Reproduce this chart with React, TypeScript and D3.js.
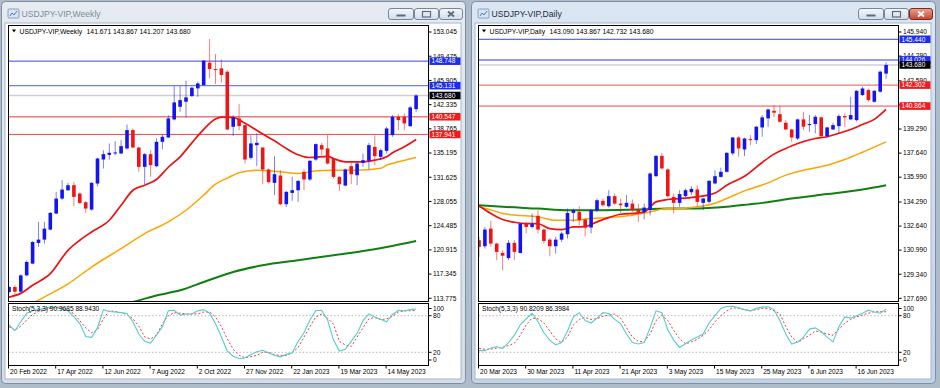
import * as d3 from 'd3';

type Candle = [number, number, number, number]; // open, high, low, close
type Pt = [number, number]; // bar index, value

const weeklyDateLabels = ['20 Feb 2022', '17 Apr 2022', '12 Jun 2022', '7 Aug 2022', '2 Oct 2022', '27 Nov 2022', '22 Jan 2023', '19 Mar 2023', '14 May 2023'];
const dailyDateLabels = ['20 Mar 2023', '30 Mar 2023', '11 Apr 2023', '21 Apr 2023', '3 May 2023', '15 May 2023', '25 May 2023', '6 Jun 2023', '16 Jun 2023'];

const weeklyTicks = [153.045, 149.475, 145.905, 142.335, 138.765, 135.195, 131.625, 128.055, 124.485, 120.915, 117.345, 113.775];
const dailyTicks = [145.94, 144.29, 142.59, 140.94, 139.29, 137.64, 135.99, 134.29, 132.64, 130.99, 129.34, 127.69];

const weeklyResistance = [148.748, 145.131];
const weeklySupport = [140.547, 137.941];
const dailyResistance = [145.44, 144.026];
const dailySupport = [142.302, 140.864];
const lastPrice = 143.68;

const weeklyCandles: Candle[] = [
    [114.7, 115.6, 114.5, 115.44], [115.44, 115.7, 114.4, 114.75], [114.75, 117.3, 114.6, 117.16], [117.16, 119.38, 117.0, 119.13],
    [118.89, 122.2, 118.8, 122.08], [121.94, 125.04, 121.35, 122.43], [122.43, 125.04, 121.84, 124.05], [123.91, 126.5, 123.8, 126.37],
    [126.27, 129.47, 126.2, 128.48], [128.48, 131.19, 128.24, 129.81], [129.71, 130.8, 129.6, 130.45], [130.45, 130.95, 127.35, 128.73],
    [129.22, 129.4, 127.7, 127.84], [127.94, 128.1, 126.37, 127.01], [126.86, 130.9, 126.7, 130.8], [130.7, 134.5, 130.3, 134.39],
    [134.24, 135.62, 132.91, 135.03], [134.93, 136.61, 134.24, 135.23], [135.13, 136.95, 134.88, 135.28], [135.13, 137.1, 135.03, 136.21],
    [135.87, 139.41, 135.7, 138.58], [138.58, 138.82, 135.9, 136.01], [136.01, 136.1, 132.42, 133.16], [133.16, 135.2, 130.6, 135.03],
    [135.03, 135.62, 131.68, 133.41], [133.26, 137.34, 133.1, 136.85], [136.85, 137.93, 135.72, 137.59], [137.49, 140.79, 137.4, 140.3],
    [140.15, 145.07, 140.0, 142.66], [142.02, 145.07, 141.28, 143.0], [142.76, 145.86, 140.44, 143.4], [143.59, 144.97, 143.5, 144.83],
    [144.73, 145.71, 143.5, 145.46], [145.22, 148.91, 145.1, 148.81], [148.52, 152.01, 146.2, 147.58], [147.58, 149.8, 145.37, 147.53],
    [147.68, 149.01, 145.56, 146.7], [147.19, 147.4, 138.58, 138.67], [139.07, 140.79, 137.69, 140.44], [140.3, 142.41, 138.58, 139.16],
    [139.31, 139.4, 133.65, 134.24], [134.49, 137.84, 134.24, 136.61], [136.36, 138.1, 133.26, 136.7], [136.01, 136.1, 130.6, 132.77],
    [132.77, 132.91, 130.7, 130.9], [130.8, 134.73, 128.98, 132.08], [131.88, 132.67, 127.5, 127.65], [127.65, 129.6, 127.25, 129.47],
    [129.32, 131.68, 128.14, 129.71], [129.71, 131.19, 127.99, 131.09], [132.42, 132.77, 129.71, 131.29], [131.29, 134.2, 131.1, 134.05],
    [134.24, 136.61, 134.05, 136.51], [136.36, 136.7, 134.88, 135.72], [135.87, 137.84, 133.5, 133.65], [134.39, 134.5, 131.44, 131.68],
    [131.68, 131.8, 129.61, 130.6], [130.4, 132.9, 130.3, 132.77], [133.26, 133.75, 130.6, 132.08], [131.93, 133.9, 130.45, 133.65],
    [133.75, 135.13, 133.16, 134.14], [134.05, 136.7, 132.77, 136.36], [136.11, 137.79, 133.41, 134.73], [134.64, 135.87, 134.14, 135.62],
    [135.52, 139.07, 135.13, 138.82], [137.84, 140.79, 137.59, 140.54], [140.54, 140.94, 138.58, 140.05], [140.54, 141.04, 138.58, 139.56],
    [139.16, 142.12, 139.07, 141.92], [141.671, 143.867, 141.207, 143.68],
];

const weeklyRedMA: Pt[] = [
    [0, 113.96], [2, 114.5], [4, 115.69], [7, 117.41], [10, 120.85], [12, 122.33], [14, 123.56], [17, 125.28], [19, 127.5],
    [21, 129.71], [23, 130.45], [25, 131.3], [27, 133.1], [29, 134.64], [31, 136.7], [33, 138.7], [35, 140.2], [36, 140.5],
    [38, 140.44], [40, 139.6], [43, 138.0], [45, 137.0], [47, 135.87], [49, 134.95], [51, 134.54], [54, 134.7], [55, 134.39],
    [57, 133.9], [60, 133.9], [62, 134.14], [64, 134.64], [65, 135.23], [67, 136.11], [69, 137.2],
];
const weeklyOrangeMA: Pt[] = [
    [3, 112.5], [5, 113.5], [10, 115.9], [14, 118.39], [19, 121.1], [23, 123.32], [27, 125.04], [30, 126.76], [33, 129.0],
    [35, 130.6], [37, 131.5], [39, 132.3], [42, 132.67], [46, 132.42], [49, 132.18], [52, 132.57], [55, 132.67], [58, 132.67],
    [60, 132.7], [63, 132.95], [64, 133.41], [66, 133.9], [69, 134.54],
];
const weeklyGreenMA: Pt[] = [
    [20, 113.0], [22, 113.47], [25, 114.2], [29, 114.95], [33, 116.18], [38, 117.66], [43, 118.64], [49, 119.38], [55, 120.12],
    [60, 120.76], [64, 121.35], [69, 122.23],
];
const weeklyStochMain = [
    64.8, 55.4, 70, 84, 88.2, 90, 92, 94, 93, 91, 88, 78, 67, 46, 44.6, 60, 90, 87, 86, 85, 83.6, 70, 50, 38, 35, 48, 62, 88,
    89, 81, 82.8, 82.8, 88, 90, 84, 67, 45, 22, 13.6, 9.8, 10.9, 16, 21, 23.4, 19, 15, 12.5, 16.9, 19, 38, 52, 73, 88, 89, 73,
    40, 22, 25, 38, 51, 72, 83, 78, 74, 70, 82, 89, 88, 90, 90.97,
];
const weeklyStochSignal = [
    62, 56.5, 63, 73, 82, 87, 89, 92, 94, 93, 90, 83, 72, 60, 52, 57, 75, 88, 87, 85, 82, 75, 63, 45, 42, 48, 67, 80, 85, 84,
    83, 83, 83, 86, 86, 78, 62, 42, 25, 15, 11, 13, 15, 20, 20, 16, 15, 15, 19, 28, 45, 62, 78, 83, 76, 66, 38, 32, 29.5, 45,
    60, 75, 77, 73.5, 75, 79, 86, 88, 88.2, 88.94,
];

const dailyCandles: Candle[] = [
    [131.67, 131.9, 130.52, 131.21], [131.26, 132.58, 131.1, 132.4], [132.47, 133.0, 131.21, 131.44], [131.44, 131.5, 130.3, 130.87],
    [130.8, 130.98, 129.61, 130.61], [130.45, 131.67, 130.3, 131.49], [131.49, 131.67, 130.3, 130.87], [130.8, 132.85, 130.75, 132.81],
    [132.81, 132.93, 132.13, 132.58], [132.58, 133.5, 132.47, 132.77], [133.34, 133.73, 132.13, 132.4], [132.4, 132.47, 131.44, 131.62],
    [131.71, 131.8, 130.57, 131.26], [131.26, 131.9, 130.75, 131.71], [131.71, 132.24, 131.55, 132.13], [132.08, 133.84, 131.78, 133.54],
    [133.54, 133.84, 132.93, 133.73], [133.61, 134.0, 132.7, 133.04], [133.09, 133.16, 131.94, 132.54], [132.54, 133.8, 132.13, 133.73],
    [133.73, 134.53, 133.6, 134.41], [134.37, 134.53, 133.96, 134.07], [134.0, 135.1, 133.9, 134.69], [134.69, 134.87, 134.07, 134.18],
    [134.18, 134.53, 133.54, 134.07], [133.96, 134.76, 133.9, 134.23], [134.18, 134.46, 133.61, 133.73], [133.77, 134.18, 132.93, 133.61],
    [133.61, 134.18, 133.09, 133.91], [133.73, 136.3, 133.38, 136.24], [136.06, 137.5, 136.0, 137.45], [137.45, 137.66, 136.52, 136.59],
    [136.52, 136.6, 134.6, 134.69], [134.64, 134.87, 133.5, 134.23], [134.23, 135.1, 133.96, 134.83], [134.69, 135.21, 134.64, 135.1],
    [134.96, 135.37, 134.76, 135.19], [135.15, 135.44, 134.0, 134.3], [134.23, 134.56, 133.73, 134.53], [134.3, 135.8, 134.2, 135.74],
    [135.56, 136.47, 135.51, 136.06], [136.01, 136.65, 135.97, 136.36], [136.36, 137.7, 136.3, 137.66], [137.62, 138.75, 137.5, 138.71],
    [138.71, 138.8, 137.39, 137.96], [137.89, 138.7, 137.43, 138.64], [138.6, 138.87, 138.19, 138.53], [138.53, 139.5, 138.26, 139.45],
    [139.4, 140.25, 138.76, 140.09], [140.02, 140.7, 139.45, 140.63], [140.54, 140.93, 140.09, 140.41], [140.31, 140.86, 139.72, 139.79],
    [139.72, 139.9, 139.22, 139.26], [139.26, 139.3, 138.42, 138.71], [138.64, 140.0, 138.53, 139.95], [139.95, 140.47, 139.22, 139.45],
    [139.56, 140.25, 139.1, 139.63], [139.63, 140.25, 138.99, 140.13], [140.09, 140.15, 138.71, 138.8], [138.8, 139.45, 138.71, 139.4],
    [139.26, 139.72, 139.22, 139.56], [139.49, 140.31, 138.99, 140.18], [140.18, 140.36, 139.45, 140.09], [139.95, 141.5, 139.9, 140.25],
    [139.9, 141.95, 139.8, 141.91], [141.62, 142.2, 141.55, 142.07], [141.96, 142.07, 141.16, 141.27], [141.16, 141.96, 141.1, 141.91],
    [141.85, 143.3, 141.78, 143.22], [143.09, 143.867, 142.732, 143.68],
];

const dailyRedMA: Pt[] = [
    [0, 134.03], [2, 133.5], [4, 133.09], [6, 132.9], [8, 132.81], [10, 132.8], [12, 132.47], [14, 132.4], [16, 132.58],
    [18, 132.6], [20, 132.93], [22, 133.22], [24, 133.45], [27, 133.54], [28, 133.61], [30, 134.3], [32, 134.46], [34, 134.53],
    [37, 134.64], [40, 134.9], [42, 135.44], [45, 136.05], [48, 137.0], [50, 137.57], [52, 137.96], [54, 138.3], [57, 138.64],
    [59, 138.76], [61, 139.0], [63, 139.26], [65, 139.6], [67, 139.95], [69, 140.63],
];
const dailyOrangeMA: Pt[] = [
    [0, 133.96], [2, 133.75], [4, 133.5], [6, 133.4], [10, 133.27], [13, 133.04], [16, 133.04], [19, 133.16], [22, 133.22],
    [26, 133.38], [29, 133.61], [32, 133.84], [34, 133.84], [37, 133.96], [40, 134.2], [42, 134.53], [45, 135.05], [49, 135.6],
    [52, 136.13], [55, 136.47], [59, 136.81], [62, 137.2], [65, 137.7], [69, 138.41],
];
const dailyGreenMA: Pt[] = [
    [0, 134.07], [4, 133.96], [10, 133.84], [15, 133.73], [21, 133.73], [27, 133.77], [32, 133.84], [36, 133.84], [42, 133.96],
    [46, 134.14], [48, 134.23], [53, 134.53], [59, 134.83], [65, 135.15], [69, 135.44],
];
const dailyStochMain = [
    22.7, 22.7, 27, 29, 26.5, 36, 48, 65, 75, 84, 70, 52, 40, 32, 36, 55, 78, 85, 72, 68, 76, 85, 83.6, 74, 67, 50, 36, 33.6,
    36, 60, 88, 85, 57, 40, 28, 34, 40, 45, 50, 68, 80, 92, 95, 95.6, 93, 90, 88, 92, 94, 94.5, 90, 72, 50, 33.6, 37, 45, 58,
    60, 54, 45, 37, 62, 78, 76, 80, 84, 89, 86, 84, 90.82,
];
const dailyStochSignal = [
    26.5, 25, 25, 27, 28, 31, 35, 48, 65, 76, 75, 68, 55, 42, 36, 45, 65, 74, 77, 74, 75, 79, 81, 82.8, 76, 60, 45, 38, 37,
    50, 72, 81, 72, 56, 42, 34, 37, 41, 48, 57, 70, 80, 88, 93, 92, 90, 88, 90, 92, 92, 88, 83, 62, 45, 36, 42, 48, 55, 53,
    50, 48, 58, 68, 74, 78, 81, 84, 86.6, 86.6, 86.4,
];

const FONT = '"Liberation Sans", Arial, sans-serif';
const BULL = '#1414f0';
const BEAR = '#f01414';

type WinProps = {
    ox: number;
    title: string;
    active: boolean;
    symbol: string;
    ohlc: string;
    stochHeader: string;
    candles: Candle[];
    redMA: Pt[];
    orangeMA: Pt[];
    greenMA: Pt[];
    stochMain: number[];
    stochSignal: number[];
    ticks: number[];
    domain: [number, number];
    resistance: number[];
    support: number[];
    dates: string[];
};

function PriceBox({ x, y, text, fill }: { x: number; y: number; text: string; fill: string }) {
    return (
        <g>
            <rect x={x} y={y - 3.8} width={31} height={7.6} fill={fill} />
            <text x={x + 2} y={y} dy="0.35em" fontSize={6.6} fill="#fff" fontFamily={FONT}>
                {text}
            </text>
        </g>
    );
}

function ChartWindow(p: WinProps) {
    const { ox } = p;
    const n = p.candles.length;
    const plotL = ox + 8.5;
    const plotR = ox + 428.5;
    const mainTop = 25.5;
    const mainBot = 301.5;
    const stTop = 303.5;
    const stBot = 365.5;

    const x = d3.scaleLinear().domain([0, n - 1]).range([ox + 9, ox + 9 + 5.9 * (n - 1)]);
    const y = d3.scaleLinear().domain(p.domain).range([298.3, 32]);
    const ys = d3.scaleLinear().domain([0, 100]).range([364.5, 303.5]);

    const maLine = d3
        .line<Pt>()
        .x((d) => x(d[0]))
        .y((d) => y(d[1]))
        .curve(d3.curveMonotoneX);
    const stLine = d3
        .line<number>()
        .x((_, i) => x(i))
        .y((d) => ys(d));

    const clipMain = `clip-main-${ox}`;
    const clipSt = `clip-st-${ox}`;
    const bodyW = 3.6;

    return (
        <g>
            <defs>
                <clipPath id={clipMain}>
                    <rect x={plotL} y={mainTop} width={plotR - plotL} height={mainBot - mainTop} />
                </clipPath>
                <clipPath id={clipSt}>
                    <rect x={plotL} y={stTop} width={plotR - plotL} height={stBot - stTop} />
                </clipPath>
                <linearGradient id={`tb-${ox}`} x1="0" y1="0" x2="0" y2="1">
                    <stop offset="0" stopColor={p.active ? '#dbe6f3' : '#e6ebf1'} />
                    <stop offset="1" stopColor={p.active ? '#c3d3e6' : '#d5dde7'} />
                </linearGradient>
                <linearGradient id={`btn-${ox}`} x1="0" y1="0" x2="0" y2="1">
                    <stop offset="0" stopColor="#f4f7fb" />
                    <stop offset="1" stopColor="#d3dce8" />
                </linearGradient>
                <linearGradient id={`cls-${ox}`} x1="0" y1="0" x2="0" y2="1">
                    <stop offset="0" stopColor="#e8a493" />
                    <stop offset="1" stopColor="#c7432e" />
                </linearGradient>
            </defs>

            {/* window frame */}
            <rect x={ox + 1.5} y={1.5} width={464} height={382} rx={4} fill={`url(#tb-${ox})`} stroke="#7f8ea3" />
            <rect x={ox + 5} y={23} width={456} height={356} fill="#fff" stroke="#a9b6c6" />

            {/* title */}
            <rect x={ox + 8} y={9} width={11} height={9} rx={1} fill="#d9e4f2" stroke="#6f8fb6" strokeWidth={0.8} />
            <path d={`M${ox + 10},16 L${ox + 12},13 L${ox + 14},15 L${ox + 17},11`} fill="none" stroke="#3f6fb0" strokeWidth={0.9} />
            <text x={ox + 21.5} y={14} dy="0.35em" fontSize={8.6} fontFamily={FONT} fill={p.active ? '#1d2b3b' : '#7d8b9b'}>
                {p.title}
            </text>
            <rect x={ox + 388.5} y={8.5} width={25} height={11} rx={2.5} fill={`url(#btn-${ox})`} stroke="#75869c" />
            <rect x={ox + 396.5} y={14.5} width={9} height={2} fill="#5d6b7c" />
            <rect x={ox + 414.5} y={8.5} width={24} height={11} rx={2.5} fill={`url(#btn-${ox})`} stroke="#75869c" />
            <rect x={ox + 422.5} y={11.5} width={8} height={5.5} fill="none" stroke="#5d6b7c" strokeWidth={1.2} />
            <rect
                x={ox + 439.5}
                y={8.5}
                width={23}
                height={11}
                rx={2.5}
                fill={p.active ? `url(#cls-${ox})` : `url(#btn-${ox})`}
                stroke={p.active ? '#7a2a20' : '#75869c'}
            />
            <path
                d={`M${ox + 448},11.5 L${ox + 454},16.5 M${ox + 454},11.5 L${ox + 448},16.5`}
                stroke={p.active ? '#fff' : '#5d6b7c'}
                strokeWidth={1.8}
            />

            {/* price axis ticks */}
            {p.ticks.map((t) => (
                <g key={t}>
                    <line x1={plotR} x2={plotR + 3} y1={y(t)} y2={y(t)} stroke="#000" />
                    <text x={ox + 433} y={y(t)} dy="0.35em" fontSize={6.6} fontFamily={FONT} fill="#000">
                        {t.toFixed(3)}
                    </text>
                </g>
            ))}

            {/* main chart */}
            <g clipPath={`url(#${clipMain})`}>
                {p.resistance.map((v, i) => (
                    <line key={v} x1={plotL} x2={plotR} y1={y(v)} y2={y(v)} stroke={i ? '#6f7cf4' : '#3544ee'} strokeWidth={i ? 1.4 : 1} />
                ))}
                <line x1={plotL} x2={plotR} y1={y(lastPrice)} y2={y(lastPrice)} stroke="#cfcfcf" strokeWidth={1.4} />
                {p.support.map((v, i) => (
                    <line key={v} x1={plotL} x2={plotR} y1={y(v)} y2={y(v)} stroke={i ? '#f04848' : '#f27878'} strokeWidth={i ? 1 : 1.4} />
                ))}
                <path d={maLine(p.greenMA) ?? ''} fill="none" stroke="#108010" strokeWidth={2} />
                <path d={maLine(p.orangeMA) ?? ''} fill="none" stroke="#ffa500" strokeWidth={1.5} />
                <path d={maLine(p.redMA) ?? ''} fill="none" stroke="#f01010" strokeWidth={1.7} />
                {p.candles.map(([o, h, l, c], i) => {
                    const col = c >= o ? BULL : BEAR;
                    const top = y(Math.max(o, c));
                    const bh = Math.max(1, Math.abs(y(o) - y(c)));
                    return (
                        <g key={i}>
                            <line x1={x(i)} x2={x(i)} y1={y(h)} y2={y(l)} stroke={col} strokeOpacity={0.55} />
                            <rect x={x(i) - bodyW / 2} y={top} width={bodyW} height={bh} fill={col} />
                        </g>
                    );
                })}
            </g>
            <rect x={plotL} y={mainTop} width={plotR - plotL} height={mainBot - mainTop} fill="none" stroke="#000" />
            <path d={`M${ox + 12},29.5 l4,0 l-2,3 z`} fill="#000" />
            <text y={31.5} dy="0.35em" fontSize={6.8} fontFamily={FONT} fill="#000">
                <tspan x={ox + 19.5}>{p.symbol}</tspan>
                <tspan dx={4.5}>{p.ohlc}</tspan>
            </text>

            {/* price labels */}
            {p.resistance.map((v) => (
                <PriceBox key={v} x={plotR + 1} y={y(v)} text={v.toFixed(3)} fill="#1c2cf0" />
            ))}
            {p.support.map((v) => (
                <PriceBox key={v} x={plotR + 1} y={y(v)} text={v.toFixed(3)} fill="#f01c1c" />
            ))}
            <PriceBox x={plotR + 1} y={y(lastPrice)} text={lastPrice.toFixed(3)} fill="#000" />

            {/* stochastic */}
            <g clipPath={`url(#${clipSt})`}>
                {[80, 20].map((lv) => (
                    <line key={lv} x1={plotL} x2={plotR} y1={ys(lv)} y2={ys(lv)} stroke="#b8b8b8" strokeDasharray="1.5 2" />
                ))}
                <path d={stLine(p.stochSignal) ?? ''} fill="none" stroke="#f03a3a" strokeDasharray="2 2" strokeWidth={1} />
                <path d={stLine(p.stochMain) ?? ''} fill="none" stroke="#55cdcd" strokeWidth={1.1} />
            </g>
            <rect x={plotL} y={stTop} width={plotR - plotL} height={stBot - stTop} fill="none" stroke="#000" />
            <text x={ox + 12} y={308.5} dy="0.35em" fontSize={6.6} fontFamily={FONT} fill="#000">
                {p.stochHeader}
            </text>
            {[
                [100, 308.5],
                [80, ys(80)],
                [20, ys(20)],
                [0, 360],
            ].map(([lv, ty]) => (
                <g key={lv}>
                    <line x1={plotR} x2={plotR + 3} y1={ty} y2={ty} stroke="#000" />
                    <text x={ox + 433} y={ty} dy="0.35em" fontSize={6.6} fontFamily={FONT} fill="#000">
                        {lv}
                    </text>
                </g>
            ))}

            {/* time axis */}
            {p.dates.map((d, k) => {
                const tx = x(k * 8) - 0.5;
                return (
                    <g key={d}>
                        <line x1={tx} x2={tx} y1={stBot} y2={stBot + 3} stroke="#000" />
                        <text x={tx + 1.5} y={372} dy="0.35em" fontSize={6.6} fontFamily={FONT} fill="#000">
                            {d}
                        </text>
                    </g>
                );
            })}
        </g>
    );
}

export default function App() {
    return (
        <svg width={940} height={388} style={{ position: 'absolute', left: 0, top: 0, background: '#aebbc9' }}>
            <ChartWindow
                ox={0}
                title="USDJPY-VIP,Weekly"
                active={false}
                symbol="USDJPY-VIP,Weekly"
                ohlc="141.671 143.867 141.207 143.680"
                stochHeader="Stoch(5,3,3) 90.9685 88.9430"
                candles={weeklyCandles}
                redMA={weeklyRedMA}
                orangeMA={weeklyOrangeMA}
                greenMA={weeklyGreenMA}
                stochMain={weeklyStochMain}
                stochSignal={weeklyStochSignal}
                ticks={weeklyTicks}
                domain={[113.775, 153.045]}
                resistance={weeklyResistance}
                support={weeklySupport}
                dates={weeklyDateLabels}
            />
            <ChartWindow
                ox={470}
                title="USDJPY-VIP,Daily"
                active={true}
                symbol="USDJPY-VIP,Daily"
                ohlc="143.090 143.867 142.732 143.680"
                stochHeader="Stoch(5,3,3) 90.8209 86.3984"
                candles={dailyCandles}
                redMA={dailyRedMA}
                orangeMA={dailyOrangeMA}
                greenMA={dailyGreenMA}
                stochMain={dailyStochMain}
                stochSignal={dailyStochSignal}
                ticks={dailyTicks}
                domain={[127.69, 145.94]}
                resistance={dailyResistance}
                support={dailySupport}
                dates={dailyDateLabels}
            />
        </svg>
    );
}
